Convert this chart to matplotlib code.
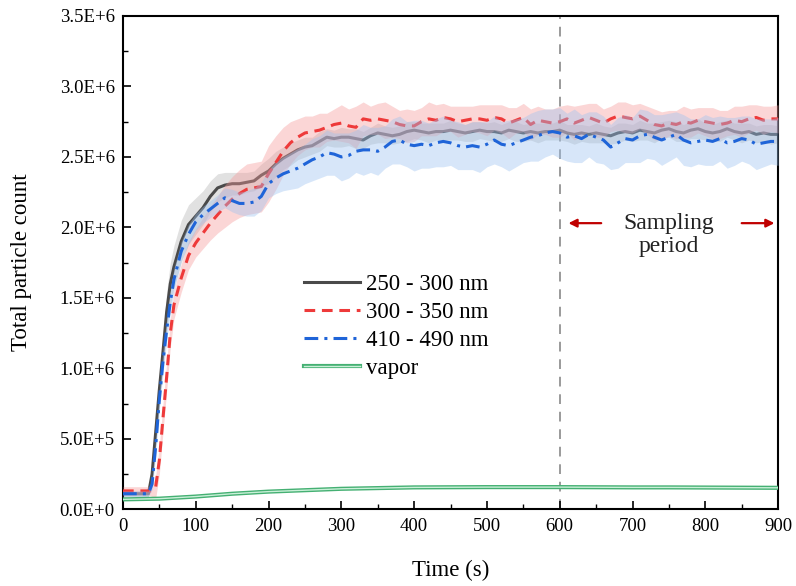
import matplotlib
matplotlib.use("Agg")
import matplotlib.pyplot as plt
import matplotlib.patheffects as pe
from matplotlib.ticker import MultipleLocator

# ---------------- data (counts in units of 1e6) ----------------
time_s = [0, 10, 20, 30, 35, 40, 45, 50, 55, 60, 65, 70,
          80, 90, 100, 110, 120, 130, 140, 150, 160, 170,
          180, 190, 200, 210, 220, 230, 240, 250, 260, 270,
          280, 290, 300, 310, 320, 330, 340, 350, 360, 370,
          380, 390, 400, 410, 420, 430, 440, 450, 460, 470,
          480, 490, 500, 510, 520, 530, 540, 550, 560, 570,
          580, 590, 600, 610, 620, 630, 640, 650, 660, 670,
          680, 690, 700, 710, 720, 730, 740, 750, 760, 770,
          780, 790, 800, 810, 820, 830, 840, 850, 860, 870,
          880, 890, 900]

gray_250_300 = [0.11, 0.11, 0.11, 0.11, 0.11, 0.25, 0.55, 0.85, 1.12, 1.40, 1.60, 1.72,
                1.90, 2.02, 2.08, 2.14, 2.22, 2.28, 2.30, 2.31, 2.31, 2.32,
                2.33, 2.37, 2.40, 2.45, 2.49, 2.52, 2.55, 2.57, 2.58, 2.61,
                2.64, 2.63, 2.64, 2.64, 2.63, 2.62, 2.65, 2.67, 2.66, 2.65,
                2.66, 2.68, 2.69, 2.68, 2.67, 2.68, 2.68, 2.69, 2.68, 2.67,
                2.68, 2.69, 2.68, 2.68, 2.67, 2.69, 2.68, 2.67, 2.68, 2.67,
                2.68, 2.68, 2.69, 2.67, 2.66, 2.67, 2.66, 2.67, 2.66, 2.65,
                2.67, 2.68, 2.67, 2.69, 2.68, 2.67, 2.69, 2.70, 2.68, 2.67,
                2.69, 2.70, 2.68, 2.67, 2.68, 2.70, 2.68, 2.67, 2.68, 2.66,
                2.67, 2.66, 2.66]
gray_err = [0.02, 0.02, 0.02, 0.02, 0.02, 0.05, 0.08, 0.10, 0.12, 0.14, 0.15, 0.15,
            0.15, 0.14, 0.13, 0.12, 0.11, 0.10, 0.09, 0.08, 0.08, 0.07,
            0.07, 0.08, 0.09, 0.09, 0.08, 0.08, 0.07, 0.07, 0.06, 0.07,
            0.06, 0.06, 0.07, 0.06, 0.07, 0.06, 0.06, 0.07, 0.06, 0.06,
            0.06, 0.07, 0.06, 0.06, 0.07, 0.06, 0.06, 0.07, 0.06, 0.06,
            0.07, 0.06, 0.06, 0.07, 0.06, 0.06, 0.07, 0.06, 0.06, 0.07,
            0.06, 0.06, 0.07, 0.06, 0.07, 0.06, 0.06, 0.07, 0.06, 0.06,
            0.07, 0.06, 0.06, 0.07, 0.06, 0.07, 0.06, 0.06, 0.07, 0.06,
            0.06, 0.07, 0.06, 0.06, 0.07, 0.06, 0.06, 0.07, 0.06, 0.06,
            0.06, 0.07, 0.06]

red_300_350 = [0.13, 0.13, 0.13, 0.13, 0.13, 0.13, 0.16, 0.35, 0.65, 0.94, 1.25, 1.45,
               1.64, 1.80, 1.89, 1.96, 2.03, 2.09, 2.15, 2.20, 2.24, 2.27,
               2.28, 2.29, 2.38, 2.46, 2.54, 2.60, 2.64, 2.67, 2.68, 2.69,
               2.71, 2.73, 2.74, 2.72, 2.71, 2.77, 2.76, 2.77, 2.76, 2.75,
               2.73, 2.72, 2.72, 2.75, 2.77, 2.76, 2.78, 2.77, 2.75, 2.76,
               2.77, 2.77, 2.76, 2.78, 2.77, 2.74, 2.76, 2.78, 2.73, 2.76,
               2.75, 2.74, 2.75, 2.77, 2.74, 2.76, 2.78, 2.76, 2.74, 2.77,
               2.79, 2.78, 2.77, 2.79, 2.76, 2.73, 2.72, 2.74, 2.73, 2.75,
               2.74, 2.76, 2.75, 2.74, 2.73, 2.74, 2.76, 2.75, 2.77, 2.78,
               2.76, 2.77, 2.77]
red_err = [0.03, 0.03, 0.03, 0.03, 0.03, 0.04, 0.08, 0.10, 0.10, 0.10, 0.10, 0.10,
           0.10, 0.10, 0.10, 0.11, 0.12, 0.13, 0.15, 0.16, 0.17, 0.18,
           0.18, 0.18, 0.20, 0.19, 0.17, 0.15, 0.13, 0.12, 0.11, 0.12,
           0.10, 0.11, 0.13, 0.12, 0.15, 0.12, 0.10, 0.11, 0.13, 0.11,
           0.10, 0.12, 0.11, 0.10, 0.12, 0.11, 0.10, 0.09, 0.11, 0.10,
           0.09, 0.10, 0.11, 0.09, 0.10, 0.11, 0.09, 0.10, 0.11, 0.10,
           0.09, 0.10, 0.11, 0.10, 0.12, 0.11, 0.10, 0.12, 0.10, 0.09,
           0.10, 0.11, 0.10, 0.09, 0.10, 0.11, 0.10, 0.09, 0.10, 0.11,
           0.10, 0.09, 0.10, 0.11, 0.10, 0.09, 0.10, 0.11, 0.10, 0.09,
           0.10, 0.09, 0.10]

blue_410_490 = [0.11, 0.11, 0.11, 0.11, 0.11, 0.18, 0.45, 0.78, 1.05, 1.27, 1.47, 1.63,
                1.83, 1.95, 2.04, 2.09, 2.13, 2.17, 2.21, 2.19, 2.17, 2.17,
                2.18, 2.22, 2.31, 2.35, 2.38, 2.40, 2.42, 2.45, 2.48, 2.50,
                2.53, 2.52, 2.50, 2.51, 2.54, 2.55, 2.55, 2.54, 2.57, 2.61,
                2.62, 2.59, 2.58, 2.59, 2.58, 2.60, 2.61, 2.60, 2.58, 2.57,
                2.58, 2.57, 2.59, 2.62, 2.59, 2.58, 2.60, 2.62, 2.64, 2.65,
                2.67, 2.68, 2.67, 2.64, 2.65, 2.63, 2.66, 2.64, 2.62, 2.57,
                2.60, 2.63, 2.62, 2.65, 2.66, 2.64, 2.62, 2.64, 2.66, 2.62,
                2.60, 2.61, 2.62, 2.61, 2.63, 2.60, 2.61, 2.63, 2.62, 2.59,
                2.60, 2.61, 2.61]
blue_err = [0.02, 0.02, 0.02, 0.02, 0.02, 0.04, 0.06, 0.07, 0.08, 0.08, 0.08, 0.08,
            0.07, 0.07, 0.06, 0.06, 0.06, 0.06, 0.07, 0.08, 0.08, 0.09,
            0.10, 0.10, 0.10, 0.11, 0.12, 0.13, 0.14, 0.14, 0.15, 0.15,
            0.16, 0.15, 0.17, 0.16, 0.15, 0.18, 0.16, 0.17, 0.15, 0.16,
            0.17, 0.16, 0.18, 0.17, 0.16, 0.17, 0.18, 0.16, 0.17, 0.16,
            0.17, 0.18, 0.16, 0.17, 0.16, 0.18, 0.17, 0.16, 0.17, 0.18,
            0.17, 0.16, 0.18, 0.17, 0.19, 0.17, 0.16, 0.18, 0.17, 0.16,
            0.18, 0.17, 0.16, 0.19, 0.17, 0.16, 0.18, 0.17, 0.16, 0.18,
            0.17, 0.16, 0.18, 0.17, 0.16, 0.18, 0.17, 0.16, 0.17, 0.18,
            0.17, 0.16, 0.17]

vapor_time = [0, 50, 100, 150, 200, 250, 300, 350, 400, 450,
              500, 550, 600, 650, 700, 750, 800, 850, 900]
vapor = [0.070, 0.075, 0.090, 0.110, 0.125, 0.135, 0.145, 0.150, 0.155, 0.156,
         0.157, 0.157, 0.157, 0.156, 0.155, 0.155, 0.154, 0.153, 0.152]

series_labels = ["250 - 300 nm", "300 - 350 nm", "410 - 490 nm", "vapor"]
yticks = [0, 0.5e6, 1.0e6, 1.5e6, 2.0e6, 2.5e6, 3.0e6, 3.5e6]
ytick_labels = ["0.0E+0", "5.0E+5", "1.0E+6", "1.5E+6", "2.0E+6", "2.5E+6", "3.0E+6", "3.5E+6"]
xticks = [0, 100, 200, 300, 400, 500, 600, 700, 800, 900]
sampling_start = 600
SCALE = 1e6

# ---------------- plot ----------------
plt.rcParams['font.family'] = ['Liberation Serif', 'DejaVu Serif']

fig = plt.figure(figsize=(7.96, 5.86), dpi=100)
ax = fig.add_axes([0.1545, 0.131, 0.823, 0.8417])

def sc(v):
    return [x * SCALE for x in v]

def band(y, e):
    lo = [(a - b) * SCALE for a, b in zip(y, e)]
    hi = [(a + b) * SCALE for a, b in zip(y, e)]
    return lo, hi

lo, hi = band(gray_250_300, gray_err)
ax.fill_between(time_s, lo, hi, color='#b4b4b4', alpha=0.4, lw=0, zorder=1)
l1, = ax.plot(time_s, sc(gray_250_300), color='#4a4a4a', lw=2.2, zorder=2,
              label=series_labels[0])

lo, hi = band(red_300_350, red_err)
ax.fill_between(time_s, lo, hi, color='#f59a9a', alpha=0.4, lw=0, zorder=3)
l2, = ax.plot(time_s, sc(red_300_350), color='#ee3a3a', lw=2.2, ls=(0, (3.5, 2.2)),
              zorder=4, label=series_labels[1])

lo, hi = band(blue_410_490, blue_err)
ax.fill_between(time_s, lo, hi, color='#9cc2f0', alpha=0.4, lw=0, zorder=5)
l3, = ax.plot(time_s, sc(blue_410_490), color='#1f64d8', lw=2.2,
              ls=(0, (4.5, 2.0, 1.0, 2.0)), zorder=6, label=series_labels[2])

l4, = ax.plot(vapor_time, sc(vapor), color='#c9f0d8', lw=1.0, zorder=7,
              label=series_labels[3],
              path_effects=[pe.Stroke(linewidth=3.0, foreground='#45b073'), pe.Normal()])

ax.axvline(sampling_start, color='#9a9a9a', lw=1.4, ls=(0, (5, 4)), zorder=0.5)

ax.set_xlim(0, 900)
ax.set_ylim(0, 3.5e6)
ax.set_xticks(xticks)
ax.set_xticklabels([str(t) for t in xticks])
ax.set_yticks(yticks)
ax.set_yticklabels(ytick_labels)
ax.xaxis.set_minor_locator(MultipleLocator(50))
ax.yaxis.set_minor_locator(MultipleLocator(0.25e6))
ax.tick_params(axis='both', which='major', direction='in', length=6, width=1.2,
               labelsize=13.5, top=False, right=False, pad=6)
ax.tick_params(axis='both', which='minor', direction='in', length=3.5, width=1.0,
               top=False, right=False)
for s in ax.spines.values():
    s.set_linewidth(1.5)

ax.set_xlabel("Time (s)", fontsize=16.5, labelpad=18)
ax.set_ylabel("Total particle count", fontsize=16.5, labelpad=20)

leg = ax.legend(handles=[l1, l2, l3, l4], loc='upper left',
                bbox_to_anchor=(0.262, 0.495), frameon=False, fontsize=16.5,
                handlelength=2.45, handletextpad=0.25, labelspacing=0.3,
                borderaxespad=0.0)

ax.text(750, 1.945e6, "Sampling\nperiod", ha='center', va='center',
        fontsize=17, linespacing=1.15, color='#222222')
ax.annotate("", xy=(612, 2.03e6), xytext=(657, 2.03e6),
            arrowprops=dict(arrowstyle='-|>', color='#c00000', lw=1.6,
                            mutation_scale=12, shrinkA=0, shrinkB=0))
ax.annotate("", xy=(895, 2.03e6), xytext=(850, 2.03e6),
            arrowprops=dict(arrowstyle='-|>', color='#c00000', lw=1.6,
                            mutation_scale=12, shrinkA=0, shrinkB=0))

fig.savefig("out.png", dpi=100)
